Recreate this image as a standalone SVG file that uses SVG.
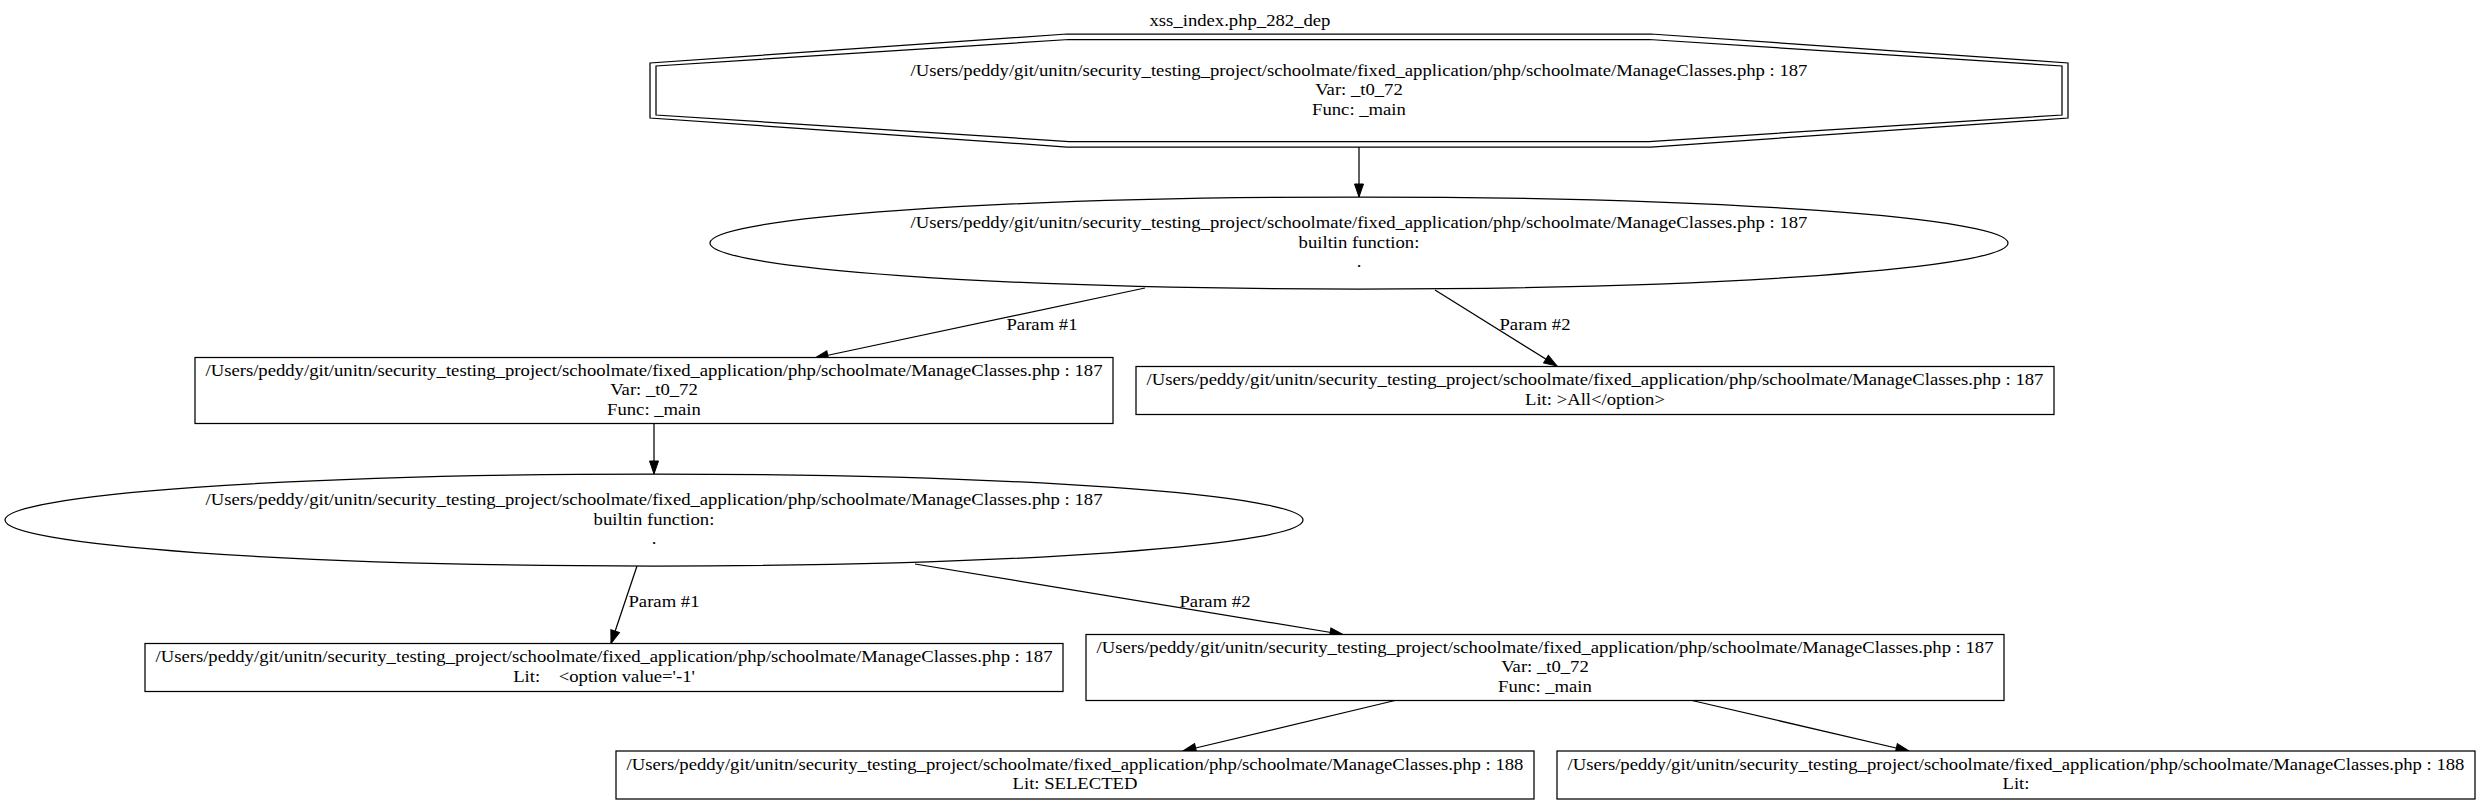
<svg xmlns="http://www.w3.org/2000/svg" width="2480" height="804" viewBox="0 0 2480 804">
<style>
text { font-family: "Liberation Serif", "Times New Roman", serif; font-size: 16.2px; fill: #000; text-anchor: middle; white-space: pre; transform-box: fill-box; transform-origin: center; transform: scaleX(1.1523); }
.shape { fill: #fff; stroke: #000; stroke-width: 1.25; }
.edge { fill: none; stroke: #000; stroke-width: 1.25; marker-end: url(#arrow); }
</style>
<defs>
<marker id="arrow" markerUnits="userSpaceOnUse" markerWidth="14" markerHeight="10" refX="13" refY="4.5" orient="auto" overflow="visible">
<path d="M0,0 L13,4.5 L0,9 Z" fill="#000" stroke="#000" stroke-width="1"/>
</marker>
</defs>
<rect x="0" y="0" width="2480" height="804" fill="#fff"/>
<text id="title" x="1240" y="26">xss_index.php_282_dep</text>

<g id="connectors">
<path class="edge" d="M1359,147 L1359,197"/>
<path class="edge" d="M1145,288 L815,358"/>
<text x="1042" y="330">Param #1</text>
<path class="edge" d="M1435,290 L1557,366"/>
<text x="1535" y="330">Param #2</text>
<path class="edge" d="M654,423.5 L654,474"/>
<path class="edge" d="M637,566 L611,643.5"/>
<text x="664" y="607">Param #1</text>
<path class="edge" d="M915,564 L1343,634.5"/>
<text x="1215" y="607">Param #2</text>
<path class="edge" d="M1395,700.5 L1183,751"/>
<path class="edge" d="M1692,700.5 L1909,751"/>
</g>

<g id="n0">
<polygon class="shape" points="1067,34 1651,34 2068,63 2068,118 1651,147 1067,147 650,118 650,63"/>
<polygon class="shape" fill="none" style="fill:none" points="1069,39.5 1649,39.5 2062,66 2062,115 1649,141.5 1069,141.5 656,115 656,66"/>
<text x="1359" y="76">/Users/peddy/git/unitn/security_testing_project/schoolmate/fixed_application/php/schoolmate/ManageClasses.php : 187</text>
<text x="1359" y="95.5">Var: _t0_72</text>
<text x="1359" y="115">Func: _main</text>
</g>

<g id="n1">
<ellipse class="shape" cx="1359" cy="243" rx="649" ry="46"/>
<text x="1359" y="228.5">/Users/peddy/git/unitn/security_testing_project/schoolmate/fixed_application/php/schoolmate/ManageClasses.php : 187</text>
<text x="1359" y="248">builtin function:</text>
<text x="1359" y="267.5">.</text>
</g>

<g id="n2">
<rect class="shape" x="195" y="357.5" width="918" height="66"/>
<text x="654" y="376">/Users/peddy/git/unitn/security_testing_project/schoolmate/fixed_application/php/schoolmate/ManageClasses.php : 187</text>
<text x="654" y="395.5">Var: _t0_72</text>
<text x="654" y="415">Func: _main</text>
</g>

<g id="n3">
<rect class="shape" x="1136" y="366.5" width="918" height="48"/>
<text x="1595" y="385.5">/Users/peddy/git/unitn/security_testing_project/schoolmate/fixed_application/php/schoolmate/ManageClasses.php : 187</text>
<text x="1595" y="405">Lit: &gt;All&lt;/option&gt;</text>
</g>

<g id="n4">
<ellipse class="shape" cx="654" cy="520" rx="649" ry="46"/>
<text x="654" y="505.5">/Users/peddy/git/unitn/security_testing_project/schoolmate/fixed_application/php/schoolmate/ManageClasses.php : 187</text>
<text x="654" y="525">builtin function:</text>
<text x="654" y="544.5">.</text>
</g>

<g id="n5">
<rect class="shape" x="145" y="643.5" width="918" height="48"/>
<text x="604" y="662.5">/Users/peddy/git/unitn/security_testing_project/schoolmate/fixed_application/php/schoolmate/ManageClasses.php : 187</text>
<text x="604" y="682">Lit:    &lt;option value='-1'</text>
</g>

<g id="n6">
<rect class="shape" x="1086" y="634.5" width="918" height="66"/>
<text x="1545" y="653">/Users/peddy/git/unitn/security_testing_project/schoolmate/fixed_application/php/schoolmate/ManageClasses.php : 187</text>
<text x="1545" y="672.5">Var: _t0_72</text>
<text x="1545" y="692">Func: _main</text>
</g>

<g id="n7">
<rect class="shape" x="616" y="751" width="918" height="48"/>
<text x="1075" y="770">/Users/peddy/git/unitn/security_testing_project/schoolmate/fixed_application/php/schoolmate/ManageClasses.php : 188</text>
<text x="1075" y="789.5">Lit: SELECTED</text>
</g>

<g id="n8">
<rect class="shape" x="1557" y="751" width="918" height="48"/>
<text x="2016" y="770">/Users/peddy/git/unitn/security_testing_project/schoolmate/fixed_application/php/schoolmate/ManageClasses.php : 188</text>
<text x="2016" y="789.5">Lit:</text>
</g>
</svg>
